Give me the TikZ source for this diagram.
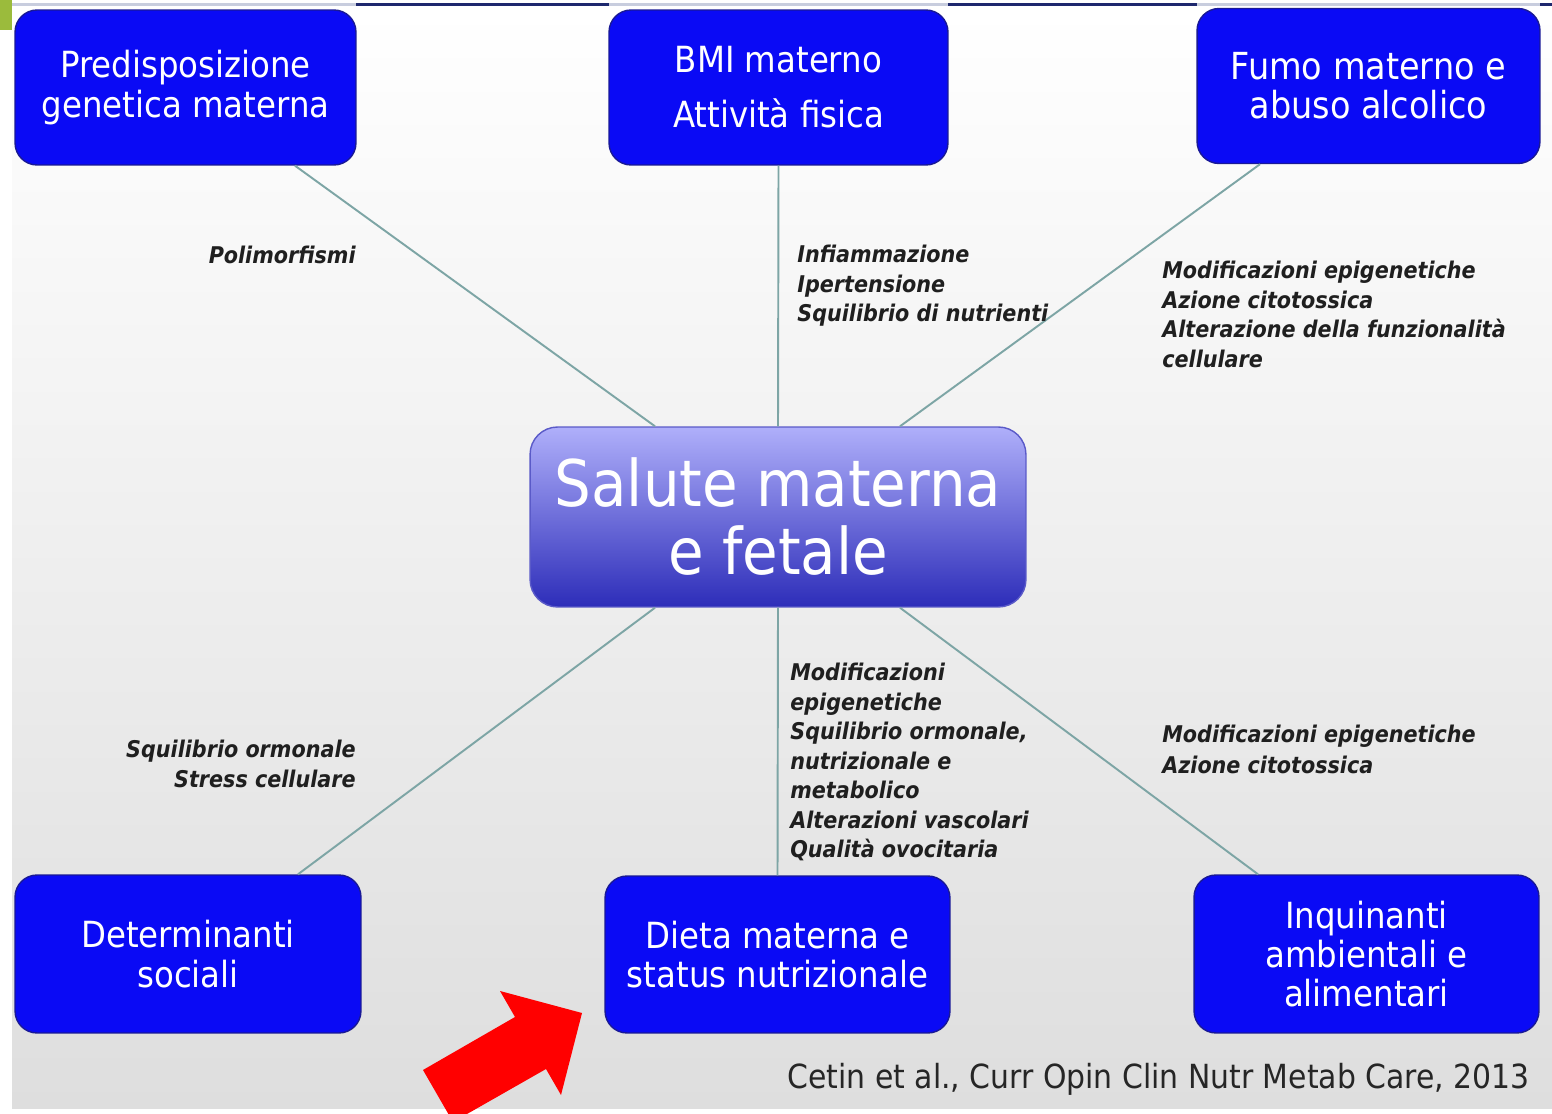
\documentclass[tikz,border=0pt]{standalone}
\usepackage{fontspec}
\setmainfont{DejaVu Sans Condensed}
\usepackage{xcolor}
\usetikzlibrary{positioning}
\definecolor{boxblue}{RGB}{10,10,245}
\definecolor{boxedge}{RGB}{25,25,150}
\definecolor{hubtop}{RGB}{175,175,250}
\definecolor{hubbot}{RGB}{45,45,185}
\definecolor{hubedge}{RGB}{90,90,200}
\definecolor{linkgray}{RGB}{125,165,165}
\definecolor{navyline}{RGB}{30,40,110}
\definecolor{paleline}{RGB}{200,205,222}
\definecolor{tabgreen}{RGB}{155,187,60}
\definecolor{bggray}{RGB}{222,222,222}
\definecolor{bgmid}{RGB}{244,244,244}
\tikzset{
  factor/.style={draw=boxedge,line width=0.8pt,fill=boxblue,rounded corners=0.44cm,
    text=white,align=center,inner sep=0pt,font=\fontsize{20.5}{22.4}\selectfont},
  hub/.style={draw=hubedge,line width=0.8pt,top color=hubtop,bottom color=hubbot,
    rounded corners=0.55cm,text=white,align=center,inner sep=0pt,
    minimum width=9.92cm,minimum height=3.6cm,font=\fontsize{36.6}{38.7}\selectfont},
  link/.style={draw=linkgray,line width=1.1pt},
  effect/.style={inner sep=0pt,text=black!88,font=\fontsize{13.1}{16.8}\selectfont\bfseries\itshape},
}

\begin{document}
\begin{tikzpicture}[x=0.02cm,y=-0.02cm]
      \clip (0,0) rectangle (1552,1114);
      \shade[top color=white,middle color=bgmid,bottom color=bggray] (12,8) rectangle (1552,1108);
      \fill[tabgreen] (0,0) rectangle (12,30);
      \draw[line width=1.7pt,paleline] (12,5) -- (1552,5);
      \foreach \a/\b in {356/609,948/1197,1540/1552}
        \draw[line width=1.7pt,navyline] (\a,5) -- (\b,5);
      \node[factor,minimum width=6.82cm,minimum height=3.1cm] (genetica) at (185.5,87.5)
        {Predisposizione\\genetica materna};
      \node[factor,minimum width=6.78cm,minimum height=3.1cm,
        font=\fontsize{20.5}{31.3}\selectfont] (bmi) at (778.5,87.5)
        {BMI materno\\Attività fisica};
      \node[factor,minimum width=6.86cm,minimum height=3.1cm,
        font=\fontsize{21.2}{22.4}\selectfont] (fumo) at (1368.5,86)
        {Fumo materno e\\abuso alcolico};
      \node[hub] (salute) at (778,517) {Salute materna\\e fetale};
      \node[factor,minimum width=6.92cm,minimum height=3.16cm] (sociali) at (188,954)
        {Determinanti\\sociali};
      \node[factor,minimum width=6.9cm,minimum height=3.14cm] (dieta) at (777.5,954.5)
        {Dieta materna e\\status nutrizionale};
      \node[factor,minimum width=6.9cm,minimum height=3.16cm] (inquinanti) at (1366.5,954)
        {Inquinanti\\ambientali e\\alimentari};
      \draw[link] ([xshift=2.19cm]genetica.south) -- ([xshift=-2.46cm]salute.north);
      \draw[link] (bmi.south) -- (salute.north);
      \draw[link] ([xshift=-2.17cm]fumo.south) -- ([xshift=2.44cm]salute.north);
      \draw[link] ([xshift=2.2cm]sociali.north) -- ([xshift=-2.46cm]salute.south);
      \draw[link] (dieta.north) -- (salute.south);
      \draw[link] ([xshift=-2.17cm]inquinanti.north) -- ([xshift=2.44cm]salute.south);
      \node[effect,anchor=base east] (polimorfismi) at (356,264) {Polimorfismi};
      \node[effect,anchor=north west,align=left] (infiammazione) at (797,245)
        {Infiammazione\\Ipertensione\\Squilibrio di nutrienti};
      \node[effect,anchor=north west,align=left] (tossici) at (1162,261)
        {Modificazioni epigenetiche\\Azione citotossica\\Alterazione della funzionalità\\cellulare};
      \node[effect,anchor=north east,align=right] (ormonale) at (356,740)
        {Squilibrio ormonale\\Stress cellulare};
      \node[effect,anchor=north west,align=left] (nutrizionale) at (790,663)
        {Modificazioni\\epigenetiche\\Squilibrio ormonale,\\nutrizionale e\\metabolico\\Alterazioni vascolari\\Qualità ovocitaria};
      \node[effect,anchor=north west,align=left,
        font=\fontsize{13.1}{17.6}\selectfont\bfseries\itshape] (ambientali) at (1162,725)
        {Modificazioni epigenetiche\\Azione citotossica};
      \node[anchor=base east,inner sep=0pt,text=black!85,font=\fontsize{18.9}{22}\selectfont]
        (fonte) at (1530,1088) {Cetin et al., Curr Opin Clin Nutr Metab Care, 2013};
      \fill[red] (582,1013) -- (500,991) -- (515,1017) -- (423,1070) -- (453,1122)
        -- (546,1069) -- (561,1095) -- cycle;
\end{tikzpicture}
\end{document}
